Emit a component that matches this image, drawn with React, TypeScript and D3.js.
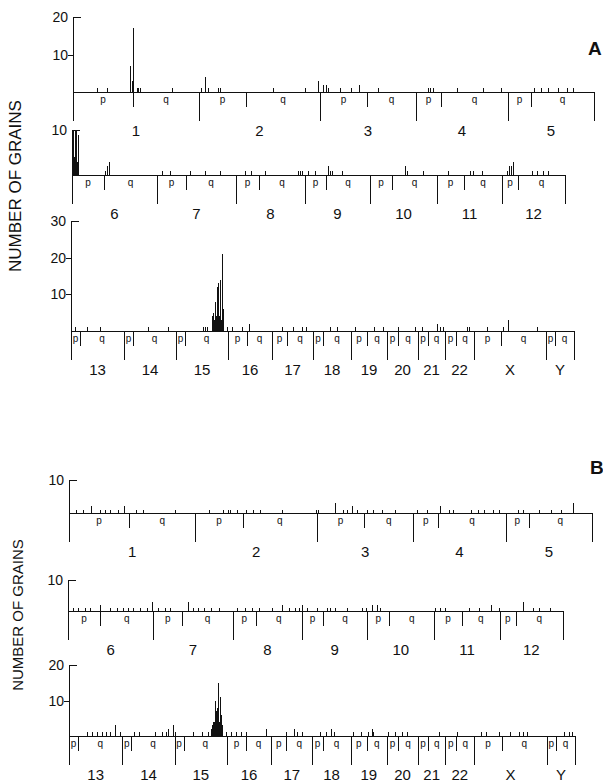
import React from "react";
import * as d3 from "d3";

// chromosome ideogram (relative lengths, p-arm lengths)
const chromNames = ["1", "2", "3", "4", "5", "6", "7", "8", "9", "10", "11", "12", "13", "14", "15", "16", "17", "18", "19", "20", "21", "22", "X", "Y"];
const chromLengths = [126, 121, 96, 92, 86, 85, 79, 69, 65, 67, 65, 63, 53, 52, 52, 44, 41, 38, 36, 31, 27, 29, 72, 28];
const pArmLengths = [60, 47, 47, 25, 23, 32, 29, 23, 21, 22, 27, 16, 9, 9, 9, 19, 15, 10, 16, 11, 10, 11, 27, 9];
const rowChroms = [
  ["1", "2", "3", "4", "5"],
  ["6", "7", "8", "9", "10", "11", "12"],
  ["13", "14", "15", "16", "17", "18", "19", "20", "21", "22", "X", "Y"],
];

const yMaxA = [20, 10, 30];
const yTicksA = [[10, 20], [10], [10, 20, 30]];
const yMaxB = [10, 10, 20];
const yTicksB = [[10], [10], [10, 20]];

type Grain = [string, number, number]; // chromosome, position along it, grains

const grainsA: Grain[] = [
  ["1", 24, 1], ["1", 34, 1], ["1", 57, 7], ["1", 59, 3], ["1", 60, 17], ["1", 64, 1], ["1", 65, 1], ["1", 67, 1], ["1", 99, 1],
  ["2", 2, 1], ["2", 6, 4], ["2", 9, 1], ["2", 19, 1], ["2", 21, 1], ["2", 74, 1], ["2", 106, 1], ["2", 119, 3],
  ["3", 3, 2], ["3", 6, 2], ["3", 8, 1], ["3", 20, 1], ["3", 31, 1], ["3", 39, 2], ["3", 58, 1],
  ["4", 12, 1], ["4", 14, 1], ["4", 17, 1], ["4", 41, 1], ["4", 67, 1], ["4", 85, 1],
  ["5", 26, 1], ["5", 33, 1], ["5", 40, 1], ["5", 50, 1], ["5", 59, 1], ["5", 65, 1],
  ["6", 0.5, 10], ["6", 1.5, 4], ["6", 2.5, 10], ["6", 4, 10], ["6", 5, 3], ["6", 6, 9], ["6", 33, 1], ["6", 35, 2], ["6", 37, 3],
  ["7", 5, 1], ["7", 13, 1], ["7", 33, 1], ["7", 48, 1], ["7", 63, 1],
  ["8", 9, 1], ["8", 15, 1], ["8", 29, 1], ["8", 62, 1], ["8", 64, 1], ["8", 66, 1],
  ["9", 3, 1], ["9", 10, 1], ["9", 23, 2], ["9", 25, 1], ["9", 27, 1], ["9", 37, 1],
  ["10", 35, 2], ["10", 37, 1], ["10", 53, 1],
  ["11", 11, 1], ["11", 33, 1], ["11", 36, 1], ["11", 45, 1],
  ["12", 5, 1], ["12", 7, 2], ["12", 9, 2], ["12", 11, 3], ["12", 30, 1], ["12", 35, 1], ["12", 41, 1], ["12", 46, 1],
  ["13", 4, 1], ["13", 16, 1], ["13", 29, 1],
  ["14", 24, 1], ["14", 44, 1],
  ["15", 27, 1], ["15", 29, 1], ["15", 31, 1], ["15", 36, 4], ["15", 37, 5], ["15", 38, 3], ["15", 39, 8], ["15", 40, 4],
  ["15", 41, 12], ["15", 42, 13], ["15", 43, 4], ["15", 44, 14], ["15", 45, 3], ["15", 46, 21], ["15", 47, 6], ["15", 51, 1],
  ["16", 4, 1], ["16", 14, 1], ["16", 21, 2],
  ["17", 10, 1], ["17", 21, 1], ["17", 30, 1], ["17", 34, 1],
  ["18", 17, 1], ["18", 24, 1],
  ["19", 4, 1], ["19", 23, 1], ["19", 32, 1],
  ["20", 11, 1], ["20", 28, 1],
  ["21", 4, 1], ["21", 19, 2], ["21", 22, 1], ["21", 25, 1],
  ["22", 22, 1], ["22", 24, 1],
  ["X", 13, 1], ["X", 29, 1], ["X", 34, 3], ["X", 63, 1],
];

const grainsB: Grain[] = [
  ["1", 7, 1], ["1", 14, 1], ["1", 22, 2], ["1", 31, 1], ["1", 36, 1], ["1", 41, 1], ["1", 49, 1], ["1", 55, 2], ["1", 67, 1], ["1", 74, 1], ["1", 106, 1],
  ["2", 13, 1], ["2", 27, 1], ["2", 32, 1], ["2", 34, 1], ["2", 41, 1], ["2", 50, 1], ["2", 57, 1], ["2", 64, 1], ["2", 86, 1], ["2", 120, 1],
  ["3", 1, 1], ["3", 18, 3], ["3", 26, 1], ["3", 30, 1], ["3", 35, 2], ["3", 40, 1], ["3", 50, 1], ["3", 56, 1], ["3", 65, 1], ["3", 78, 1],
  ["4", 4, 1], ["4", 14, 1], ["4", 27, 2], ["4", 36, 1], ["4", 40, 1], ["4", 57, 1], ["4", 64, 1], ["4", 70, 1], ["4", 79, 1], ["4", 85, 1],
  ["5", 12, 1], ["5", 17, 1], ["5", 33, 1], ["5", 45, 1], ["5", 55, 1], ["5", 67, 3],
  ["6", 5, 1], ["6", 10, 1], ["6", 17, 1], ["6", 22, 1], ["6", 32, 2], ["6", 42, 1], ["6", 49, 1], ["6", 55, 1], ["6", 60, 1], ["6", 65, 1], ["6", 72, 1], ["6", 79, 1], ["6", 84, 3],
  ["7", 5, 1], ["7", 12, 1], ["7", 17, 1], ["7", 35, 3], ["7", 39, 1], ["7", 44, 1], ["7", 50, 1], ["7", 57, 1], ["7", 65, 1],
  ["8", 4, 1], ["8", 12, 1], ["8", 19, 1], ["8", 26, 1], ["8", 39, 1], ["8", 49, 2], ["8", 56, 1], ["8", 62, 1], ["8", 66, 1],
  ["9", 0.5, 2], ["9", 5, 1], ["9", 15, 1], ["9", 25, 1], ["9", 28, 1], ["9", 33, 1], ["9", 45, 1], ["9", 60, 1], ["9", 64, 1],
  ["10", 5, 2], ["10", 10, 2], ["10", 13, 1],
  ["11", 1, 1], ["11", 5, 1], ["11", 10, 1], ["11", 34, 1], ["11", 44, 1], ["11", 56, 2], ["11", 64, 1],
  ["12", 23, 3], ["12", 33, 1], ["12", 39, 1], ["12", 50, 1],
  ["13", 18, 1], ["13", 23, 1], ["13", 28, 1], ["13", 33, 1], ["13", 37, 1], ["13", 41, 1], ["13", 46, 3], ["13", 51, 1],
  ["14", 12, 1], ["14", 17, 1], ["14", 32, 1], ["14", 39, 1], ["14", 43, 1], ["14", 45, 2], ["14", 50, 3], ["14", 52, 1],
  ["15", 18, 1], ["15", 27, 1], ["15", 33, 1], ["15", 36, 2], ["15", 37, 3], ["15", 38, 4], ["15", 39, 4], ["15", 40, 10],
  ["15", 41, 7], ["15", 42, 8], ["15", 43, 15], ["15", 44, 4], ["15", 45, 11], ["15", 46, 6], ["15", 47, 3], ["15", 51, 1],
  ["16", 4, 1], ["16", 9, 1], ["16", 14, 1], ["16", 19, 1], ["16", 39, 2],
  ["17", 15, 1], ["17", 23, 2], ["17", 26, 1], ["17", 31, 1],
  ["18", 8, 1], ["18", 13, 1], ["18", 18, 2], ["18", 21, 1],
  ["19", 2, 1], ["19", 10, 1], ["19", 17, 1], ["19", 21, 2], ["19", 22, 1],
  ["20", 1, 1], ["20", 8, 1], ["20", 15, 1], ["20", 20, 1],
  ["21", 21, 1],
  ["22", 12, 1],
  ["X", 7, 1], ["X", 12, 1], ["X", 24, 1], ["X", 35, 1], ["X", 44, 1], ["X", 48, 1], ["X", 52, 1],
  ["Y", 17, 1], ["Y", 22, 1], ["Y", 25, 1],
];

// row placement on the page
const rowsA = [
  { x0: 73, x1: 594, base: 92, top: 17 },
  { x0: 72, x1: 565, base: 175, top: 130 },
  { x0: 71, x1: 574, base: 331, top: 221 },
];
const rowsB = [
  { x0: 69, x1: 592, base: 513, top: 480 },
  { x0: 68, x1: 563, base: 611, top: 580 },
  { x0: 69, x1: 575, base: 736, top: 665 },
];

const FONT = "'Liberation Sans', Arial, Helvetica, sans-serif";
const INK = "#111";

// snap to pixel centre so 1px lines stay black
const px = (v) => Math.round(v) + 0.5;

const Row = ({ chroms, layout, yMax, ticks, grains }) => {
  const idx = chroms.map((c) => chromNames.indexOf(c));
  const starts = {};
  let acc = 0;
  idx.forEach((i, k) => {
    starts[chroms[k]] = acc;
    acc += chromLengths[i];
  });
  const x = d3.scaleLinear().domain([0, acc]).range([layout.x0, layout.x1]);
  const y = d3.scaleLinear().domain([0, yMax]).range([layout.base, layout.top]);
  const base = layout.base;
  const ax = px(layout.x0);
  const rowGrains = grains.filter((g) => chroms.includes(g[0]));

  return (
    <g shapeRendering="crispEdges">
      {/* y axis */}
      <line x1={ax} x2={ax} y1={y(yMax)} y2={base + 29} stroke={INK} strokeWidth={1} />
      {ticks.map((t) => (
        <g key={t}>
          {t === yMax ? (
            <line x1={ax} x2={ax + 7} y1={px(y(t))} y2={px(y(t))} stroke={INK} strokeWidth={1} />
          ) : (
            <line x1={ax - 6} x2={ax} y1={px(y(t))} y2={px(y(t))} stroke={INK} strokeWidth={1} />
          )}
          <text x={layout.x0 - 5} y={y(t) + 5} textAnchor="end" fontSize={14} fontFamily={FONT} fill={INK}>
            {t}
          </text>
        </g>
      ))}
      {/* baseline */}
      <line x1={ax} x2={px(layout.x1)} y1={px(base)} y2={px(base)} stroke={INK} strokeWidth={1} />
      {/* chromosomes */}
      {chroms.map((c, k) => {
        const i = idx[k];
        const s = starts[c];
        const len = chromLengths[i];
        const p = pArmLengths[i];
        return (
          <g key={c}>
            <line x1={px(x(s + len))} x2={px(x(s + len))} y1={base} y2={base + 29} stroke={INK} strokeWidth={1} />
            <line x1={px(x(s + p))} x2={px(x(s + p))} y1={base} y2={base + 15} stroke={INK} strokeWidth={1} />
            <text x={x(s + p / 2)} y={base + 11} textAnchor="middle" fontSize={10} fontFamily={FONT} fill={INK}>
              p
            </text>
            <text x={x(s + p + (len - p) / 2)} y={base + 11} textAnchor="middle" fontSize={10} fontFamily={FONT} fill={INK}>
              q
            </text>
            <text x={x(s + len / 2)} y={base + 44} textAnchor="middle" fontSize={15} fontFamily={FONT} fill={INK}>
              {c}
            </text>
          </g>
        );
      })}
      {/* grain counts */}
      {rowGrains.map((g, j) => {
        const gx = px(x(starts[g[0]] + g[1]));
        return <line key={j} x1={gx} x2={gx} y1={base} y2={Math.round(y(g[2]))} stroke={INK} strokeWidth={1} />;
      })}
    </g>
  );
};

const Panel = ({ rows, yMax, ticks, grains, letter, letterX, letterY, titleX, titleY, titleSize }) => (
  <g>
    {rows.map((layout, r) => (
      <Row key={r} chroms={rowChroms[r]} layout={layout} yMax={yMax[r]} ticks={ticks[r]} grains={grains} />
    ))}
    <text
      transform={`translate(${titleX},${titleY}) rotate(-90)`}
      textAnchor="middle"
      fontSize={titleSize}
      fontFamily={FONT}
      fill={INK}
    >
      NUMBER OF GRAINS
    </text>
    <text x={letterX} y={letterY} fontSize={19} fontWeight="bold" fontFamily={FONT} fill={INK}>
      {letter}
    </text>
  </g>
);

export default function App() {
  return (
    <svg
      width={603}
      height={782}
      viewBox="0 0 603 782"
      style={{ position: "absolute", left: 0, top: 0, background: "#fff" }}
    >
      <rect width={603} height={782} fill="#fff" />
      <Panel rows={rowsA} yMax={yMaxA} ticks={yTicksA} grains={grainsA} letter="A" letterX={588} letterY={55} titleX={21} titleY={186} titleSize={17} />
      <Panel rows={rowsB} yMax={yMaxB} ticks={yTicksB} grains={grainsB} letter="B" letterX={590} letterY={474} titleX={23} titleY={615} titleSize={15} />
    </svg>
  );
}
